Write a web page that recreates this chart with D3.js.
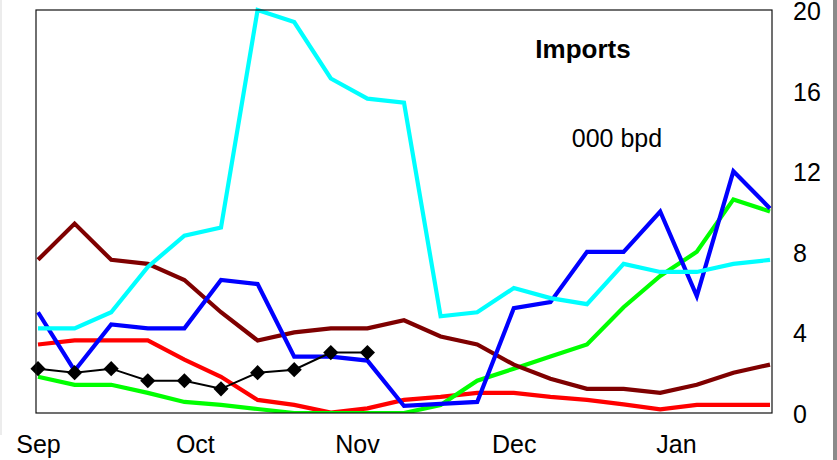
<!DOCTYPE html>
<html><head><meta charset="utf-8">
<script src="https://cdn.jsdelivr.net/npm/d3@7"></script>
<style>body{margin:0;background:#fff}svg{display:block}text{font-family:"Liberation Sans",Arial,sans-serif}</style>
</head><body><svg id="c" width="837" height="460"></svg>
<script>
const startDate = "2003-09-01";
const monthTicks = ["2003-09-01","2003-10-01","2003-11-01","2003-12-01","2004-01-01"];
const monthLabels = ["Sep","Oct","Nov","Dec","Jan"];
const yTicks = [0,4,8,12,16,20];
const cyan   = [4.2,4.2,5.0,7.25,8.8,9.2,20,19.4,16.6,15.6,15.4,4.8,5.0,6.2,5.7,5.4,7.4,7.0,7.0,7.4,7.6];
const blue   = [5.0,2.1,4.4,4.2,4.2,6.6,6.4,2.8,2.8,2.6,0.35,0.45,0.55,5.2,5.5,8.0,8.0,10.0,5.8,12.0,10.15];
const green  = [1.8,1.4,1.4,1.0,0.55,0.4,0.2,0,0,0,0,0.4,1.6,2.2,2.8,3.4,5.25,6.8,8.0,10.6,10.0];
const red    = [3.4,3.6,3.6,3.6,2.65,1.8,0.65,0.4,0.02,0.23,0.65,0.8,1.0,1.0,0.8,0.65,0.43,0.18,0.4,0.4,0.4];
const maroon = [7.6,9.4,7.6,7.4,6.6,5.0,3.6,4.0,4.2,4.2,4.6,3.8,3.4,2.4,1.7,1.2,1.2,1.0,1.4,2.0,2.4];
const black  = [2.2,2.0,2.2,1.6,1.6,1.2,2.0,2.15,3.0,3.0];
const title = "Imports", unit = "000 bpd";

const svg = d3.select("#c");
const L=36, R=772, T=10, B=413;
const FS = 25;
const t0 = new Date(startDate+"T00:00:00Z");
const dateAt = i => new Date(t0.getTime()+i*7*86400000);
const parse = s => new Date(s+"T00:00:00Z");
const x = d3.scaleUtc().domain([dateAt(0), dateAt(20)]).range([38,770]);
const y = d3.scaleLinear().domain([0,20]).range([B,T]);

// frame decorations
svg.append("rect").attr("x",0).attr("y",0).attr("width",2).attr("height",435).attr("fill","#ececec");
svg.append("rect").attr("x",833).attr("y",0).attr("width",4).attr("height",460).attr("fill","#8a8a8a");

const g = svg.append("g");
g.append("defs").append("clipPath").attr("id","clip").append("rect")
  .attr("x",L).attr("y",T-3).attr("width",R-L+3).attr("height",B-T+3);

const line = d3.line().x((d,i)=>x(dateAt(i))).y(d=>y(d));
const series = [[red,"#ff0000"],[green,"#00ff00"],[maroon,"#7f0000"],[blue,"#0000ff"],[cyan,"#00ffff"]];
const lg = g.append("g").attr("clip-path","url(#clip)");
series.forEach(([data,col])=>{
  lg.append("path").datum(data).attr("d",line).attr("fill","none")
    .attr("stroke",col).attr("stroke-width",4.2).attr("stroke-linejoin","miter");
});
g.append("path").datum(black).attr("d",line).attr("fill","none").attr("stroke","#000").attr("stroke-width",2);
g.selectAll(".dia").data(black).join("path").attr("class","dia")
  .attr("d",d3.symbol().type(d3.symbolSquare).size(115))
  .attr("transform",(d,i)=>`translate(${x(dateAt(i))},${y(d)}) rotate(45)`)
  .attr("fill","#000");

// border
g.append("rect").attr("x",L).attr("y",T).attr("width",R-L).attr("height",B-T)
  .attr("fill","none").attr("stroke","#111").attr("stroke-width",1.2);

// right axis
const ya = d3.axisRight(y).tickValues(yTicks).tickSize(0).tickPadding(21);
const yg = svg.append("g").attr("transform",`translate(${R},0)`).call(ya);
yg.select(".domain").remove();
yg.selectAll("text").attr("font-size",FS).attr("dy","0.38em").attr("fill","#000").attr("font-family","Liberation Sans, Arial, sans-serif");

// bottom axis
const xa = d3.axisBottom(x).tickValues(monthTicks.map(parse)).tickFormat((d,i)=>monthLabels[i]).tickSize(0).tickPadding(22);
const xg = svg.append("g").attr("transform",`translate(0,${B})`).call(xa);
xg.select(".domain").remove();
xg.selectAll("text").attr("font-size",FS).attr("fill","#000").attr("font-family","Liberation Sans, Arial, sans-serif");

svg.append("text").attr("x",583).attr("y",58).attr("text-anchor","middle")
  .attr("font-size",26).attr("font-weight","bold").text(title);
svg.append("text").attr("x",617).attr("y",147).attr("text-anchor","middle")
  .attr("font-size",FS).text(unit);
</script></body></html>
